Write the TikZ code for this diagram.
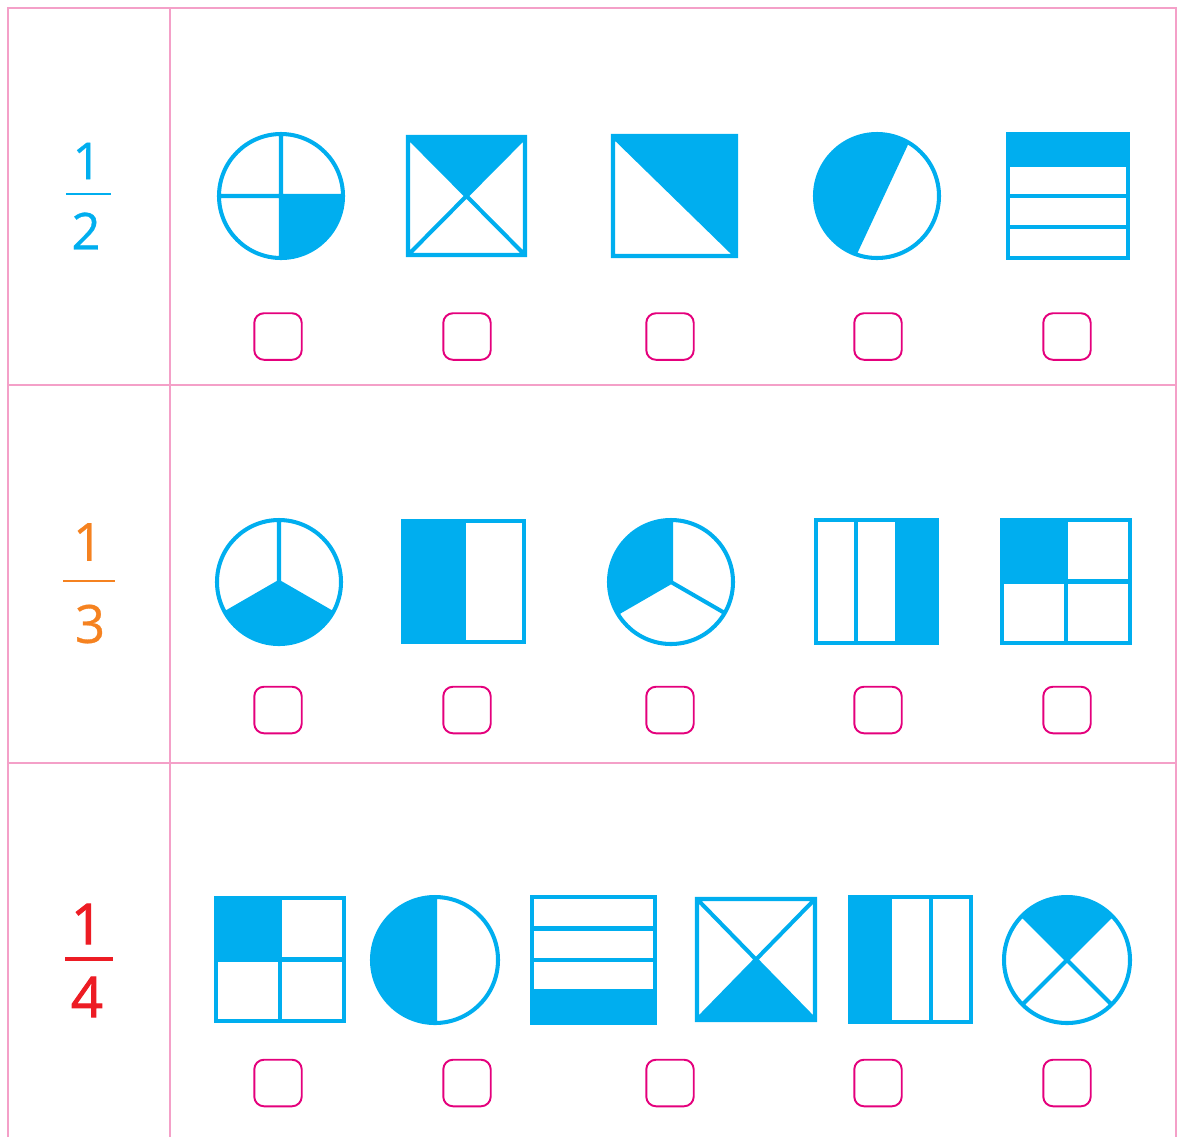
\documentclass[tikz,border=0pt]{standalone}
\usepackage{fontspec}
\setmainfont{Open Sans}
\newfontfamily\fracfont{Open Sans}[FakeBold=0.6]
\newfontfamily\fracfontheavy{Open Sans}[FakeBold=1.6]
\usetikzlibrary{positioning}
\definecolor{fraccyan}{RGB}{0,174,239}
\definecolor{fracorange}{RGB}{245,130,32}
\definecolor{fracred}{RGB}{237,28,36}
\definecolor{gridpink}{RGB}{244,160,200}
\definecolor{boxmagenta}{RGB}{228,0,124}

\begin{document}
\begin{tikzpicture}[x=0.02cm, y=-0.02cm,
    grid/.style={draw=gridpink, line width=1.5pt},
    part/.style={draw=fraccyan, line width=2.3pt},
    shade/.style={fill=fraccyan},
    tickbox/.style={draw=boxmagenta, line width=1.1pt, rounded corners=5.5pt, minimum width=27pt, minimum height=26.5pt, inner sep=0pt},
    digit/.style={inner sep=0pt},
    fracbar/.style={line width=1.3pt}
  ]
  \useasboundingbox (0,0) rectangle (1177,1137);

  \draw[grid] (8,1137) -- (8,8) -- (1176,8) -- (1176,1137);
  \draw[grid] (170,8) -- (170,1137);
  \draw[grid] (8,385) -- (1176,385) (8,763) -- (1176,763);

  \node[digit, text=fraccyan, font=\fracfont\fontsize{29pt}{29pt}\selectfont] (halfnum) at (87,161) {1};
  \draw[fracbar, draw=fraccyan] (66,194) -- (111,194);
  \node[digit, text=fraccyan, font=\fracfont\fontsize{29pt}{29pt}\selectfont] (halfden) at (86,231) {2};

  \node[digit, text=fracorange, font=\fracfont\fontsize{30pt}{30pt}\selectfont] (thirdnum) at (88,542) {1};
  \draw[fracbar, draw=fracorange] (63,581) -- (115,581);
  \node[digit, text=fracorange, font=\fracfont\fontsize{30pt}{30pt}\selectfont] (thirdden) at (90,624) {3};

  \node[digit, text=fracred, font=\fracfontheavy\fontsize{32pt}{32pt}\selectfont] (quarternum) at (87,924) {1};
  \draw[fracbar, draw=fracred, line width=1.8pt] (65,959) -- (113,959);
  \node[digit, text=fracred, font=\fracfontheavy\fontsize{32pt}{32pt}\selectfont] (quarterden) at (87,997) {4};

  \fill[shade] (281,196) -- (343,196) arc[start angle=0, end angle=90, radius=62] -- cycle;
  \draw[part] (281,196) circle[radius=62] (219,196) -- (343,196) (281,134) -- (281,258);

  \fill[shade] (408,137) -- (525,137) -- (466.5,196) -- cycle;
  \draw[part] (408,137) rectangle (525,255) (408,137) -- (525,255) (525,137) -- (408,255);

  \fill[shade] (613,136) -- (736,136) -- (736,256) -- cycle;
  \draw[part] (613,136) rectangle (736,256) (613,136) -- (736,256);

  \fill[shade] (854.8,253.9) arc[start angle=111, end angle=299, radius=62] -- cycle;
  \draw[part] (877,196) circle[radius=62] (854.8,253.9) -- (907.1,141.8);

  \fill[shade] (1008,134) rectangle (1128,165);
  \draw[part] (1008,134) rectangle (1128,258) (1008,165) -- (1128,165) (1008,196) -- (1128,196) (1008,227) -- (1128,227);

  \fill[shade] (279,582) -- ++(30:62) arc[start angle=30, end angle=150, radius=62] -- cycle;
  \draw[part] (279,582) circle[radius=62] (279,582) -- ++(270:62) (279,582) -- ++(30:62) (279,582) -- ++(150:62);

  \fill[shade] (403,521) rectangle (463.5,642);
  \draw[part] (403,521) rectangle (524,642) (463.5,521) -- (463.5,642);

  \fill[shade] (671,582) -- ++(150:62) arc[start angle=150, end angle=270, radius=62] -- cycle;
  \draw[part] (671,582) circle[radius=62] (671,582) -- ++(270:62) (671,582) -- ++(30:62) (671,582) -- ++(150:62);

  \fill[shade] (896.7,520) rectangle (937,643);
  \draw[part] (816,520) rectangle (937,643) (856.3,520) -- (856.3,643) (896.7,520) -- (896.7,643);

  \fill[shade] (1002,520) rectangle (1066,581.5);
  \draw[part] (1002,520) rectangle (1130,643) (1066,520) -- (1066,643) (1002,581.5) -- (1130,581.5);

  \fill[shade] (216,898) rectangle (280,959.5);
  \draw[part] (216,898) rectangle (344,1021) (280,898) -- (280,1021) (216,959.5) -- (344,959.5);

  \fill[shade] (435,1023) arc[start angle=90, end angle=270, radius=63] -- cycle;
  \draw[part] (435,960) circle[radius=63] (435,897) -- (435,1023);

  \fill[shade] (532,991.5) rectangle (655,1023);
  \draw[part] (532,897) rectangle (655,1023) (532,928.5) -- (655,928.5) (532,960) -- (655,960) (532,991.5) -- (655,991.5);

  \fill[shade] (697,1020) -- (815,1020) -- (756,959.5) -- cycle;
  \draw[part] (697,899) rectangle (815,1020) (697,899) -- (815,1020) (815,899) -- (697,1020);

  \fill[shade] (850,897) rectangle (890.3,1022);
  \draw[part] (850,897) rectangle (971,1022) (890.3,897) -- (890.3,1022) (930.7,897) -- (930.7,1022);

  \fill[shade] (1067,960) -- ++(225:63) arc[start angle=225, end angle=315, radius=63] -- cycle;
  \draw[part] (1067,960) circle[radius=63] (1067,960) ++(45:63) -- ++(225:126) (1067,960) ++(135:63) -- ++(315:126);

  \foreach \row/\y in {1/336.5, 2/710, 3/1083}
    \foreach \col/\x in {1/278, 2/467, 3/670, 4/878, 5/1067}
      \node[tickbox] (box\row\col) at (\x,\y) {};
\end{tikzpicture}
\end{document}
